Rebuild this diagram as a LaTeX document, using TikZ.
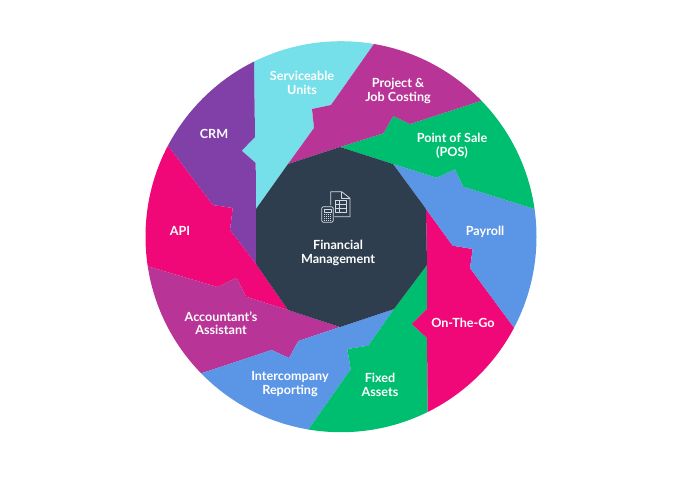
\documentclass[tikz,border=0pt]{standalone}
\usepackage{fontspec}
\setmainfont{Lato}
\usepackage{xcolor}
\definecolor{hubdark}{HTML}{2E3E4E}
\definecolor{segcyan}{HTML}{76E0EA}
\definecolor{segpurple}{HTML}{8040A8}
\definecolor{segpink}{HTML}{F00878}
\definecolor{segmagenta}{HTML}{B83496}
\definecolor{seggreen}{HTML}{00BE70}
\definecolor{segblue}{HTML}{5B95E5}
\definecolor{iconline}{HTML}{D5D9DD}
\tikzset{
  seglabel/.style={text=white,align=center,font=\fontsize{12.6}{13.5}\selectfont\bfseries},
  iconstroke/.style={draw=iconline,line width=0.8pt,line join=round}
}
\begin{document}
\begin{tikzpicture}[x=1pt,y=-1pt]
  \useasboundingbox (0,0) rectangle (686,480);
  % rim ends run past the circle, the clip trims them
  \coordinate (rimserv) at (253.7,37);
  \coordinate (rimproj) at (388,24);
  \coordinate (rimpos) at (505,93);
  \coordinate (rimpay) at (558.6,216.5);
  \coordinate (rimgo) at (529,348);
  \coordinate (rimfix) at (428,437);
  \coordinate (rimint) at (294,450);
  \coordinate (rimacc) at (178,381);
  \coordinate (rimapi) at (123,259);
  \coordinate (rimcrm) at (153,126);
  \begin{scope}
    \clip (341,236.7) circle[radius=195.5];
    \fill[segcyan] (rimserv) -- (rimproj) -- (331,105) -- (312,109) -- (314,128) -- (288,164) -- (256,209) -- (255.7,163) -- (241.7,150.7) -- (255,137) -- cycle;
    \fill[segpurple] (rimcrm) -- (rimserv) -- (255,137) -- (241.7,150.7) -- (255.7,163) -- (256,209) -- (256,264) -- (230,230) -- (232.7,208) -- (212.7,205) -- cycle;
    \fill[segpink] (rimapi) -- (rimcrm) -- (212.7,205) -- (232.7,208) -- (230,230) -- (256,264) -- (288,310) -- (246,296.7) -- (236.7,277.7) -- (217.7,287) -- cycle;
    \fill[segmagenta] (rimacc) -- (rimapi) -- (217.7,287) -- (236.7,277.7) -- (246,296.7) -- (288,310) -- (340,327) -- (298.3,341) -- (289,358) -- (271.7,350) -- cycle;
    \fill[segblue] (rimint) -- (rimacc) -- (271.7,350) -- (289,358) -- (298.3,341) -- (340,327) -- (394,309) -- (368.3,345.7) -- (347.3,349) -- (350.7,369.3) -- cycle;
    \fill[seggreen] (rimfix) -- (rimint) -- (350.7,369.3) -- (347.3,349) -- (368.3,345.7) -- (394,309) -- (427,265) -- (427,309) -- (411.7,324) -- (427,338) -- cycle;
    \fill[segpink] (rimgo) -- (rimfix) -- (427,338) -- (411.7,324) -- (427,309) -- (427,265) -- (426,209) -- (452.7,245.7) -- (472.7,249) -- (470,268) -- cycle;
    \fill[segblue] (rimpay) -- (rimgo) -- (470,268) -- (472.7,249) -- (452.7,245.7) -- (426,209) -- (393,164) -- (436.7,177.7) -- (455,169.3) -- (463.3,186.7) -- cycle;
    \fill[seggreen] (rimpos) -- (rimpay) -- (463.3,186.7) -- (455,169.3) -- (436.7,177.7) -- (393,164) -- (340,147) -- (383.3,133.3) -- (393.3,116) -- (410,124) -- cycle;
    \fill[segmagenta] (rimproj) -- (rimpos) -- (410,124) -- (393.3,116) -- (383.3,133.3) -- (340,147) -- (288,164) -- (314,128) -- (312,109) -- (331,105) -- cycle;
  \end{scope}
  \fill[hubdark] (256,209) -- (288,164) -- (340,147) -- (393,164) -- (426,209) -- (427,265) -- (394,309) -- (340,327) -- (288,310) -- (256,264) -- cycle;
  % icon
  \draw[iconstroke] (330.7,205) -- (330.7,191.7) -- (341.7,191.7) -- (350,198.3) -- (350,216.7) -- (334.3,216.7);
  \draw[iconstroke] (341.7,191.7) -- (341.7,198.3) -- (350,198.3);
  \draw[iconstroke] (335,200) rectangle (346.7,212.7);
  \draw[iconstroke] (335,204.2) -- (346.7,204.2);
  \draw[iconstroke] (335,208.4) -- (346.7,208.4);
  \draw[iconstroke] (339,200) -- (339,212.7);
  \draw[iconstroke,rounded corners=1.5pt] (321.7,206.7) rectangle (333.3,222.3);
  \draw[iconstroke] (324,209.5) rectangle (331,212);
  \foreach \row in {214.5,216.5,218.5,220.5}
    \draw[iconline,line width=0.9pt,dash pattern=on 1.2pt off 0.8pt] (324,\row) -- (331,\row);
  \node[seglabel] (hub) at (338,253) {Financial\\Management};
  \node[seglabel] (serv) at (302,83) {Serviceable\\Units};
  \node[seglabel] (proj) at (398,91) {Project \&\\Job Costing};
  \node[seglabel] (pos) at (452,146) {Point of Sale\\(POS)};
  \node[seglabel] (pay) at (485,232) {Payroll};
  \node[seglabel] (go) at (463,323) {On-The-Go};
  \node[seglabel] (fix) at (380,385) {Fixed\\Assets};
  \node[seglabel] (int) at (290,384) {Intercompany\\Reporting};
  \node[seglabel] (acc) at (221,323) {Accountant's\\Assistant};
  \node[seglabel] (api) at (180,231) {API};
  \node[seglabel] (crm) at (214,134) {CRM};
\end{tikzpicture}
\end{document}
